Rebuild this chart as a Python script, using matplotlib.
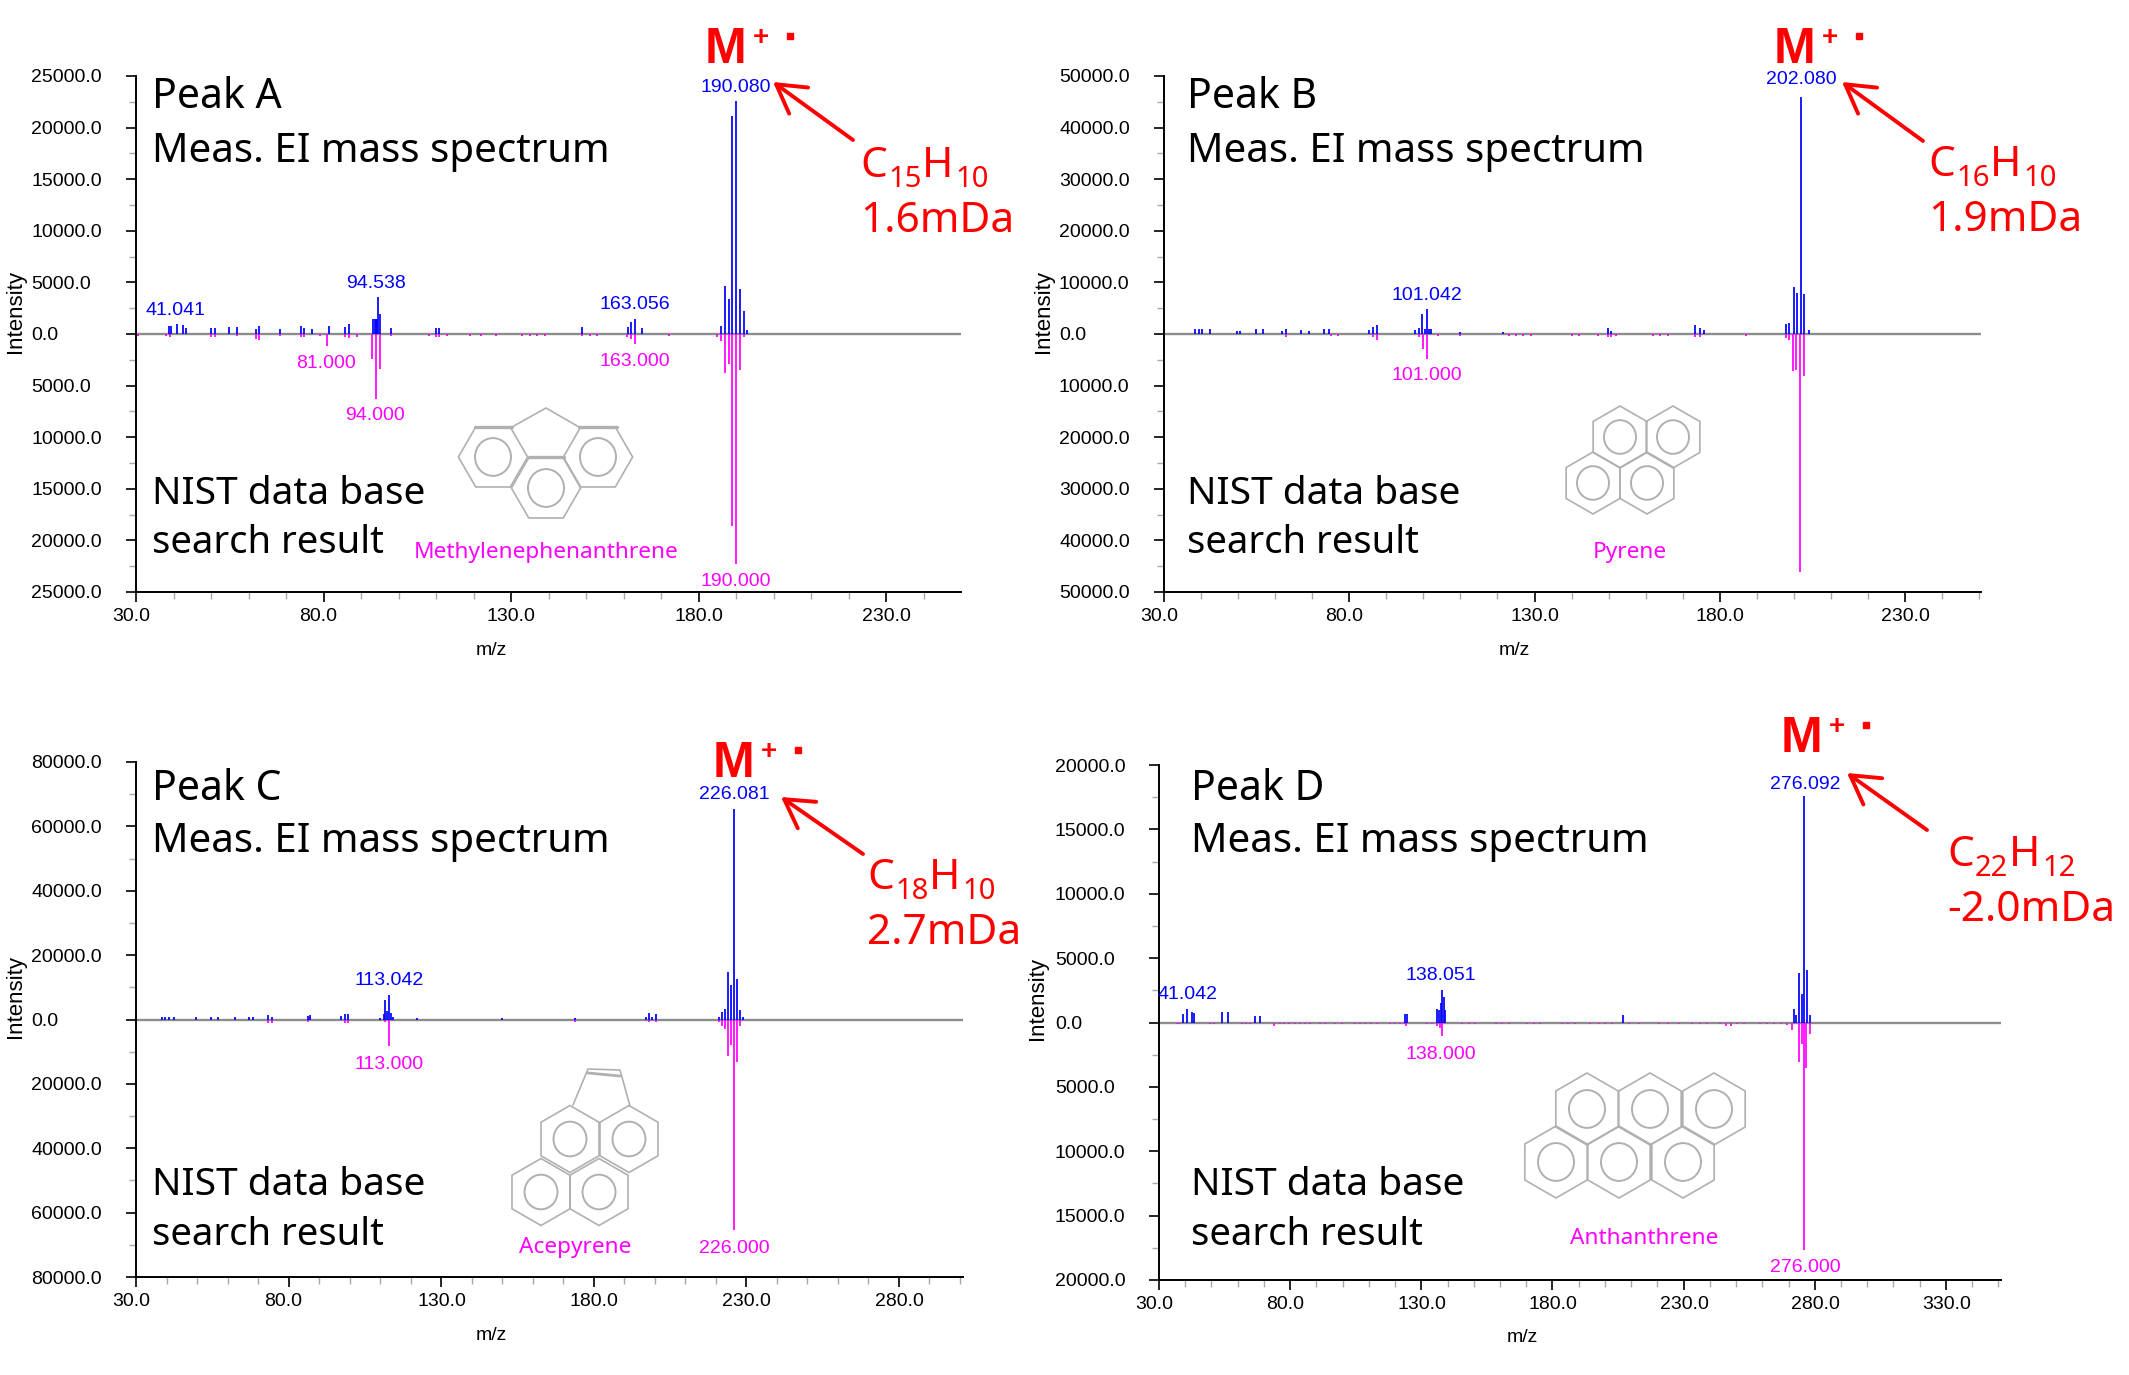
import numpy as np
import matplotlib
matplotlib.use('Agg')
import matplotlib.pyplot as plt
from matplotlib.patches import Polygon, Ellipse
from matplotlib.ticker import FuncFormatter
from matplotlib.transforms import ScaledTranslation

W = 2129
H = 1375

a_mz = [38.9, 39.3, 41, 42.6, 43.2, 49.9, 51, 54.8, 56.8, 61.9, 62.9, 68.4, 73.9, 74.9, 76.8, 81.5, 85.7, 86.8,
        93.3, 93.6, 94, 94.2, 94.5, 95, 97.9, 109.9, 110.9, 148.9, 161.2, 162.1, 163, 165,
        186, 187, 188, 189, 190, 191, 192, 193]
a_int = [800, 800, 980, 900, 600, 600, 600, 650, 650, 500, 800, 500, 800, 600, 500, 800, 650, 1000,
         1500, 1500, 1500, 1500, 3600, 1950, 600, 600, 600, 650, 670, 1170, 1500, 540,
         800, 4650, 3350, 21150, 22600, 4400, 2270, 400]
a_lib_mz = [30.5, 38, 39, 49.9, 51, 56.8, 61.9, 62.9, 68.4, 73.9, 74.9, 79, 81, 85.7, 86.8, 88.9, 93, 94, 95, 97.9,
            108, 109.9, 110.9, 113, 119, 122, 126, 133, 135, 137, 139, 148.9, 151, 153, 161, 162, 163,
            172, 185, 186, 187, 188, 189, 190, 191, 192]
a_lib_int = [150, 200, 260, 320, 320, 160, 490, 590, 160, 260, 260, 150, 1170, 260, 420, 260, 2440, 6250, 3350, 160,
             150, 260, 260, 160, 150, 150, 150, 150, 150, 160, 150, 150, 150, 150, 300, 500, 1000,
             150, 250, 650, 3750, 2930, 18600, 22300, 3500, 300]

b_mz = [38.4, 39.4, 40.3, 42.5, 49.7, 50.6, 54.7, 56.8, 61.8, 62.8, 66.9, 69, 73.3, 74.4, 85.4, 86.4, 87.5,
        97.8, 98.7, 99.7, 100.4, 101, 101.5, 102, 110, 121.6, 149.7, 150.6, 173.4, 174.6, 175.7,
        197.8, 198.7, 200, 200.8, 202, 202.8, 204]
b_int = [1000, 1000, 1000, 1000, 600, 600, 1000, 1000, 600, 1000, 800, 500, 1000, 1000, 800, 1300, 1700,
         700, 1250, 3800, 1000, 4800, 1000, 1000, 400, 400, 1250, 600, 1700, 1250, 800,
         1850, 2100, 9050, 8000, 46000, 7700, 700]
b_lib_mz = [62.8, 75, 77, 86.4, 87.5, 98.7, 100, 101, 104, 110, 123, 125, 127, 129, 140, 142, 147, 149.7, 150.6,
            152, 162, 164, 166, 173.4, 174.6, 187, 197.8, 198.7, 199.7, 200.7, 201.7, 202.7]
b_lib_int = [500, 300, 300, 600, 1200, 500, 2900, 4860, 300, 300, 300, 300, 300, 300, 300, 300, 300, 500, 500,
             300, 300, 400, 300, 500, 500, 300, 700, 1250, 7100, 7000, 46200, 8100]

c_mz = [38.6, 39.5, 40.9, 42.6, 49.5, 54.6, 57, 62.3, 67, 68.5, 73.4, 74.5, 86.3, 86.9, 97.3, 98.4, 99.5,
        110, 111.3, 111.7, 112.4, 113, 113.5, 114.2, 122, 149.8, 174, 197, 198.1, 199.2, 200.3,
        221, 222, 223, 224, 225, 226, 227, 228, 229]
c_int = [800, 800, 800, 800, 700, 700, 700, 700, 700, 700, 1300, 700, 1000, 1400, 1100, 1600, 1600,
         500, 1600, 6000, 2700, 7700, 2000, 800, 500, 500, 500, 800, 2000, 800, 1800,
         800, 2400, 3300, 14700, 10700, 65400, 12500, 3000, 700]
c_lib_mz = [73.4, 74.5, 86.3, 98.4, 99.5, 111.7, 113, 174, 198.1, 200.3, 221, 222, 223, 224, 225, 226, 227, 228]
c_lib_int = [1100, 1100, 800, 1100, 1100, 900, 8300, 800, 800, 800, 800, 2000, 2900, 11400, 7800, 65500, 13100, 2000]

d_mz = [39.3, 40.8, 42.7, 43.5, 54, 56.2, 66.5, 68.4, 123.9, 124.7, 136, 136.8, 137.5, 138, 138.5, 139, 207,
        272, 273, 274, 275, 276, 277, 278]
d_int = [670, 1070, 830, 730, 800, 800, 500, 500, 670, 670, 1070, 1000, 1500, 2500, 2000, 1000, 600,
         1070, 600, 3850, 2200, 17600, 4100, 600]
d_lib_mz = [36.8, 37.8, 49.5, 50.8, 61.6, 63.2, 64.8, 73.7, 76.2, 77.7, 79.4, 81.9, 83.8, 85.7, 87.6, 91.5, 93.4,
            97.2, 99.7, 104.8, 106.7, 108.6, 110.8, 113.1, 118.2, 120.1, 122, 123.3, 124.3, 132.2, 134.1, 136, 137,
            138, 145.5, 148.1, 150.6, 158.3, 160.8, 163.3, 170.4, 172.9, 175.4, 183.6, 186, 188.7, 194.4, 197.6,
            200, 202.7, 209.1, 212.9, 220.5, 224, 228.2, 233.3, 236.1, 239, 244, 246.2, 248.1, 250.4, 253, 259.3,
            261.9, 264.4, 267, 269.5, 271.5, 274, 275, 276, 276.6, 278]
d_lib_int = [130, 130, 130, 130, 130, 130, 130, 270, 130, 130, 130, 130, 130, 130, 130, 130, 130,
             130, 130, 130, 130, 130, 130, 130, 130, 130, 130, 130, 270, 130, 130, 270, 400,
             1070, 130, 130, 130, 130, 130, 130, 130, 130, 130, 130, 130, 130, 130, 130,
             130, 130, 130, 130, 130, 130, 130, 130, 130, 130, 130, 270, 270, 130, 130, 130,
             130, 130, 130, 200, 600, 3100, 1670, 17700, 3500, 930]

fig = plt.figure(figsize=(W / 100, H / 100), dpi=100, facecolor='white')


def spectrum(left, right, top, bottom, xmax, ymax, ystep, ytick_left, mz, inten, lib_mz, lib_int):
    ax = fig.add_axes([left / W, 1 - bottom / H, (right - left) / W, (bottom - top) / H])
    ax.axhline(0, color='#8c8c8c', lw=1.7, zorder=1)
    ax.vlines(mz, 0, inten, color='#0000ff', lw=1.25, zorder=3)
    ax.vlines(lib_mz, 0, -np.array(lib_int), color='#ff00ff', lw=1.25, zorder=3)
    ax.set_xlim(30, xmax)
    ax.set_ylim(-ymax, ymax)
    ax.spines['top'].set_visible(False)
    ax.spines['right'].set_visible(False)
    ax.spines['left'].set_linewidth(1.4)
    ax.spines['bottom'].set_linewidth(1.4)
    ax.set_xticks(np.arange(30, xmax, 50))
    ax.set_xticks(np.arange(30, xmax, 10), minor=True)
    ax.set_yticks(np.arange(-ymax, ymax + 1, ystep))
    ax.set_yticks(np.arange(-ymax, ymax + 1, ystep / 2), minor=True)
    ax.yaxis.set_major_formatter(FuncFormatter(lambda v, p: '%.1f' % abs(v)))
    ax.xaxis.set_major_formatter(FuncFormatter(lambda v, p: '%.1f' % v))
    ax.tick_params(which='major', length=7.2, width=1.2, color='black', labelsize=14)
    ax.tick_params(which='minor', length=5, width=1, color='#a8a8a8')
    ax.tick_params(axis='x', which='major', pad=4)
    ax.tick_params(axis='y', which='major', pad=(left - ytick_left) * 0.72 - 7.2)
    for t in ax.get_yticklabels():
        t.set_fontfamily('Liberation Sans')
        t.set_ha('left')
    # the original software starts every x label a fixed way left of its tick
    off = ScaledTranslation(-24 / 100, 0, fig.dpi_scale_trans)
    for t in ax.get_xticklabels():
        t.set_fontfamily('Liberation Sans')
        t.set_ha('left')
        t.set_transform(t.get_transform() + off)
    return ax


spectrum(136, 961, 76, 592, 250, 25000, 5000, 31, a_mz, a_int, a_lib_mz, a_lib_int)
spectrum(1164, 1981, 76, 592, 250.5, 50000, 10000, 1059, b_mz, b_int, b_lib_mz, b_lib_int)
spectrum(136, 963, 762, 1277, 301, 80000, 20000, 31, c_mz, c_int, c_lib_mz, c_lib_int)
spectrum(1159, 2001, 765, 1280, 351, 20000, 5000, 1055, d_mz, d_int, d_lib_mz, d_lib_int)

## everything else sits on a full figure layer counted in pixels
ov = fig.add_axes([0, 0, 1, 1], zorder=5)
ov.set_xlim(0, W)
ov.set_ylim(H, 0)
ov.axis('off')
ov.patch.set_alpha(0)


def small(x, y, s, color='black', rot=0, size=14):
    ov.text(x, y, s, color=color, family='Liberation Sans', fontsize=size, ha='center', va='center', rotation=rot)


def peaklabel(x, y, s, color):
    small(x, y + 2.5, s, color)


def captions(x, y1, y2, y3, y4, peak):
    for y, s, size in [(y1, peak, 29.5), (y2, 'Meas. EI mass spectrum', 29), (y3, 'NIST data base', 28),
                       (y4, 'search result', 27.5)]:
        ov.text(x, y, s, family='Noto Sans', fontsize=size, color='black', ha='left', va='baseline')


def ion(mx, my, tip, tail, fx, fy1, fy2, c, h, delta):
    ov.text(mx, my, 'M', family='Liberation Sans', weight='bold', fontsize=36, color='red', ha='left', va='baseline')
    ov.text(mx + 56, my - 25, '+', family='Liberation Sans', weight='bold', fontsize=20, color='red',
            ha='center', va='center')
    ov.plot([mx + 85], [my - 27.5], marker='s', ms=5, color='red', ls='none')
    ov.annotate('', xy=tip, xytext=tail,
                arrowprops=dict(arrowstyle='->,head_length=1.0,head_width=0.58', color='red', lw=2.8,
                                shrinkA=0, shrinkB=0, mutation_scale=20))
    red = dict(family='Noto Sans', color='red', ha='left', va='baseline')
    ov.text(fx, fy1, 'C', fontsize=30.5, **red)
    ov.text(fx + 28, fy1 + 10, c, fontsize=21, **red)
    ov.text(fx + 62, fy1, 'H', fontsize=30.5, **red)
    ov.text(fx + 95, fy1 + 10, h, fontsize=21, **red)
    ov.text(fx, fy2, delta, fontsize=30.5, **red)


def ring(cx, cy, r, circle, pointy=True):
    start = 90 if pointy else 0
    ang = np.radians(start + np.arange(6) * 60)
    ov.add_patch(Polygon(np.c_[cx + r * np.cos(ang), cy + r * np.sin(ang)], closed=True, fill=False,
                         ec='#b0b0b0', lw=1.2))
    ov.add_patch(Ellipse((cx, cy), circle * 2, circle * 2.1, fill=False, ec='#b0b0b0', lw=1.4))


def bond(xs, ys, lw=1.2):
    ov.plot(xs, ys, color='#b0b0b0', lw=lw, solid_capstyle='round')


# Peak A
captions(152, 108, 162, 504, 553, 'Peak A')
ion(705, 63, (773, 82), (853, 140), 860, 177, 232, '15', '10', '1.6mDa')
peaklabel(176, 308, '41.041', '#0000ff')
peaklabel(376, 281, '94.538', '#0000ff')
peaklabel(635, 302, '163.056', '#0000ff')
peaklabel(736, 85, '190.080', '#0000ff')
peaklabel(326, 361, '81.000', '#ff00ff')
peaklabel(375, 413, '94.000', '#ff00ff')
peaklabel(635, 359, '163.000', '#ff00ff')
peaklabel(736, 579, '190.000', '#ff00ff')
ov.text(546, 552, 'Methylenephenanthrene', family='Noto Sans', fontsize=16.3, color='#ff00ff', ha='center', va='center')
ring(493, 457, 34.6, 18, pointy=False)
ring(598, 457, 34.6, 18, pointy=False)
ring(546, 488, 34.6, 18, pointy=False)
bond([512, 546, 579], [427, 408, 427])
bond([475, 512], [427, 427], 2.4)
bond([579, 617], [427, 427], 2.4)
bond([529, 564], [457, 457], 2.4)

# Peak B
captions(1187, 108, 162, 504, 553, 'Peak B')
ion(1774, 63, (1842, 82), (1923, 141), 1928, 176, 231, '16', '10', '1.9mDa')
peaklabel(1427, 293, '101.042', '#0000ff')
peaklabel(1801, 77, '202.080', '#0000ff')
peaklabel(1427, 373, '101.000', '#ff00ff')
ov.text(1630, 552, 'Pyrene', family='Noto Sans', fontsize=16.3, color='#ff00ff', ha='center', va='center')
ring(1620, 437, 31, 16)
ring(1673, 437, 31, 16)
ring(1593, 483, 31, 16)
ring(1647, 483, 31, 16)

# Peak C
captions(152, 800, 852, 1195, 1245, 'Peak C')
ion(713, 777, (781, 797), (863, 854), 867, 889, 944, '18', '10', '2.7mDa')
peaklabel(389, 978, '113.042', '#0000ff')
peaklabel(734, 792, '226.081', '#0000ff')
peaklabel(389, 1062, '113.000', '#ff00ff')
peaklabel(734, 1246, '226.000', '#ff00ff')
ov.text(575, 1248, 'Acepyrene', family='Noto Sans', fontsize=16.3, color='#ff00ff', ha='center', va='center')
ring(570, 1139, 33.5, 16.5)
ring(629, 1139, 33.5, 16.5)
ring(541, 1192, 33.5, 16.5)
ring(599, 1192, 33.5, 16.5)
bond([573, 588, 620, 630], [1105, 1069, 1070, 1106])
bond([588, 620], [1073, 1076], 2)

# Peak D
captions(1191, 800, 852, 1195, 1245, 'Peak D')
ion(1781, 752, (1847, 773), (1927, 830), 1947, 866, 921, '22', '12', '-2.0mDa')
peaklabel(1187, 992, '41.042', '#0000ff')
peaklabel(1441, 973, '138.051', '#0000ff')
peaklabel(1805, 782, '276.092', '#0000ff')
peaklabel(1441, 1052, '138.000', '#ff00ff')
peaklabel(1805, 1265, '276.000', '#ff00ff')
ov.text(1644, 1238, 'Anthanthrene', family='Noto Sans', fontsize=16.3, color='#ff00ff', ha='center', va='center')
for cx in [1587, 1650, 1714]:
    ring(cx, 1109, 36, 18)
for cx in [1556, 1619, 1683]:
    ring(cx, 1162, 36, 18)

# axis names
small(15, 311, 'Intensity', rot=90, size=16)
small(1044, 311, 'Intensity', rot=90, size=16)
small(15, 997, 'Intensity', rot=90, size=16)
small(1037, 998, 'Intensity', rot=90, size=16)
small(491, 650, 'm/z')
small(1514, 650, 'm/z')
small(491, 1335, 'm/z')
small(1522, 1338, 'm/z')

fig.savefig('out.png', dpi=100, facecolor='white')
